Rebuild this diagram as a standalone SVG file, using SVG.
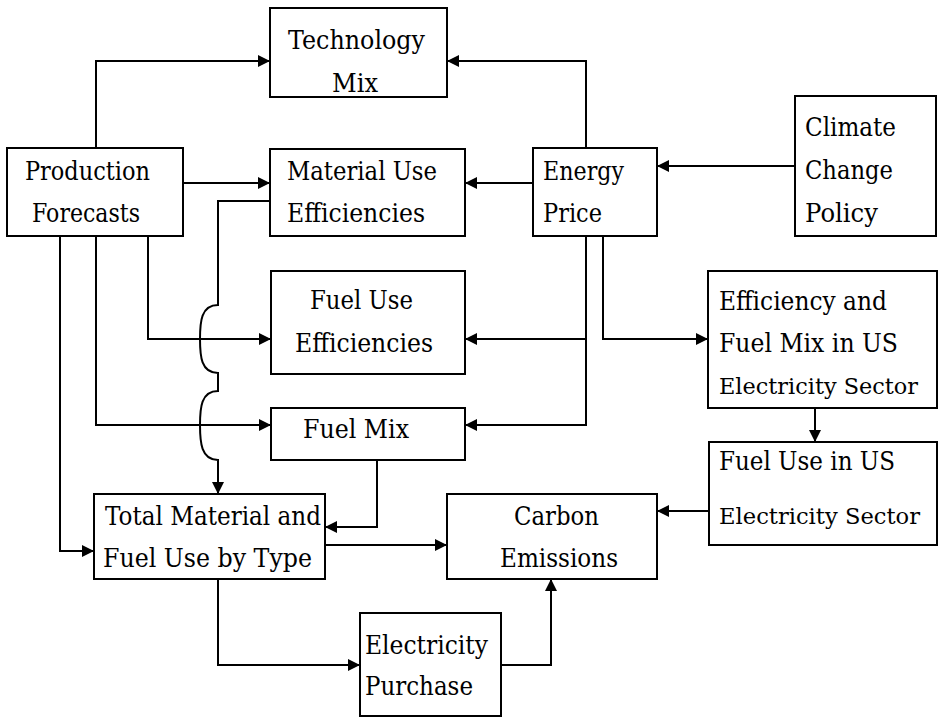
<svg xmlns="http://www.w3.org/2000/svg" width="943" height="719" viewBox="0 0 943 719">
<defs>
<marker id="ah" markerUnits="userSpaceOnUse" markerWidth="12" markerHeight="12" refX="12" refY="6" orient="auto">
<path d="M0,0 L12,6 L0,12 z" fill="#000"/>
</marker>
<style>
.box{fill:#fff;stroke:#000;stroke-width:2}
.t{font-family:'DejaVu Serif','Liberation Serif',serif;font-size:26px;fill:#000}
.s{font-size:23px}
.ar{fill:none;stroke:#000;stroke-width:2;marker-end:url(#ah)}
</style>
</defs>
<rect width="943" height="719" fill="#fff"/>
<g id="connectors">
<path class="ar" d="M96,148 V61 H270"/>
<path class="ar" d="M586,148 V61 H447"/>
<path class="ar" d="M183,183 H270"/>
<path class="ar" d="M533,183 H465"/>
<path class="ar" d="M795,166 H657"/>
<path class="ar" d="M270,201 H218 V305 C201,305 200,322 200,339 C200,356 201,373 218,373 V391 C201,391 200,408 200,425 C200,442 201,460 218,460 V494"/>
<path class="ar" d="M148,236 V339 H271"/>
<path class="ar" d="M96,236 V425 H271"/>
<path class="ar" d="M60,236 V551 H94"/>
<path class="ar" d="M586,236 V425 H465"/>
<path class="ar" d="M586,339 H465"/>
<path class="ar" d="M603,236 V339 H708"/>
<path class="ar" d="M815,408 V442"/>
<path class="ar" d="M709,511 H657"/>
<path class="ar" d="M377,460 V527 H325"/>
<path class="ar" d="M325,545 H447"/>
<path class="ar" d="M218,579 V665 H360"/>
<path class="ar" d="M501,665 H551 V579"/>
</g>
<g id="technology-mix">
<rect class="box" x="270" y="8" width="177" height="89"/>
<text class="t" x="288" y="49" textLength="137" lengthAdjust="spacingAndGlyphs">Technology</text>
<text class="t" x="332" y="92" textLength="46" lengthAdjust="spacingAndGlyphs">Mix</text>
</g>
<g id="production-forecasts">
<rect class="box" x="7" y="148" width="176" height="88"/>
<text class="t" x="25" y="180" textLength="125" lengthAdjust="spacingAndGlyphs">Production</text>
<text class="t" x="32" y="222" textLength="108" lengthAdjust="spacingAndGlyphs">Forecasts</text>
</g>
<g id="material-use-efficiencies">
<rect class="box" x="270" y="149" width="195" height="87"/>
<text class="t" x="287" y="180" textLength="150" lengthAdjust="spacingAndGlyphs">Material Use</text>
<text class="t" x="287" y="222" textLength="138" lengthAdjust="spacingAndGlyphs">Efficiencies</text>
</g>
<g id="energy-price">
<rect class="box" x="533" y="148" width="124" height="88"/>
<text class="t" x="543" y="180" textLength="81" lengthAdjust="spacingAndGlyphs">Energy</text>
<text class="t" x="543" y="222" textLength="59" lengthAdjust="spacingAndGlyphs">Price</text>
</g>
<g id="climate-change-policy">
<rect class="box" x="795" y="96" width="141" height="140"/>
<text class="t" x="805" y="136" textLength="91" lengthAdjust="spacingAndGlyphs">Climate</text>
<text class="t" x="805" y="179" textLength="88" lengthAdjust="spacingAndGlyphs">Change</text>
<text class="t" x="805" y="222" textLength="73" lengthAdjust="spacingAndGlyphs">Policy</text>
</g>
<g id="fuel-use-efficiencies">
<rect class="box" x="271" y="271" width="194" height="103"/>
<text class="t" x="310" y="309" textLength="103" lengthAdjust="spacingAndGlyphs">Fuel Use</text>
<text class="t" x="295" y="352" textLength="138" lengthAdjust="spacingAndGlyphs">Efficiencies</text>
</g>
<g id="fuel-mix">
<rect class="box" x="271" y="408" width="194" height="52"/>
<text class="t" x="303" y="438" textLength="106" lengthAdjust="spacingAndGlyphs">Fuel Mix</text>
</g>
<g id="efficiency-fuel-mix-us">
<rect class="box" x="708" y="271" width="229" height="137"/>
<text class="t" x="719" y="310" textLength="168" lengthAdjust="spacingAndGlyphs">Efficiency and</text>
<text class="t" x="719" y="352" textLength="179" lengthAdjust="spacingAndGlyphs">Fuel Mix in US</text>
<text class="t s" x="719" y="394" textLength="199" lengthAdjust="spacingAndGlyphs">Electricity Sector</text>
</g>
<g id="fuel-use-us">
<rect class="box" x="709" y="442" width="228" height="103"/>
<text class="t" x="719" y="470" textLength="176" lengthAdjust="spacingAndGlyphs">Fuel Use in US</text>
<text class="t s" x="719" y="524" textLength="201" lengthAdjust="spacingAndGlyphs">Electricity Sector</text>
</g>
<g id="total-material-fuel-use">
<rect class="box" x="94" y="494" width="231" height="85"/>
<text class="t" x="105" y="525" textLength="216" lengthAdjust="spacingAndGlyphs">Total Material and</text>
<text class="t" x="103" y="567" textLength="209" lengthAdjust="spacingAndGlyphs">Fuel Use by Type</text>
</g>
<g id="carbon-emissions">
<rect class="box" x="447" y="494" width="210" height="85"/>
<text class="t" x="514" y="525" textLength="85" lengthAdjust="spacingAndGlyphs">Carbon</text>
<text class="t" x="500" y="567" textLength="118" lengthAdjust="spacingAndGlyphs">Emissions</text>
</g>
<g id="electricity-purchase">
<rect class="box" x="360" y="613" width="141" height="103"/>
<text class="t" x="365" y="654" textLength="123" lengthAdjust="spacingAndGlyphs">Electricity</text>
<text class="t" x="365" y="695" textLength="108" lengthAdjust="spacingAndGlyphs">Purchase</text>
</g>
</svg>
